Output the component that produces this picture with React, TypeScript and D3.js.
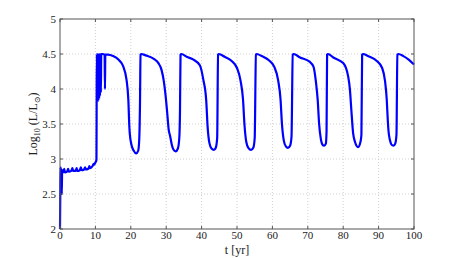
import React from "react";
import * as d3 from "d3";

// time [yr] and log10 luminosity
const tYears = [
  0, 0.1, 0.15, 0.25, 0.4, 0.5, 0.6, 0.9, 1.2, 1.4, 2.0, 2.3, 2.5, 3.2, 3.5, 3.7,
  4.4, 4.7, 4.9, 5.6, 5.9, 6.1, 6.8, 7.1, 7.3, 8.0, 8.3, 8.5, 9.2, 9.5, 9.7, 10.0,
  10.3, 10.35, 10.4, 10.55, 10.65, 10.8, 10.9, 11.05, 11.15, 11.3, 11.4, 11.55, 11.65, 11.8,
  12.0, 12.6, 12.7, 12.8, 13.5, 15.0, 16.5, 17.8, 18.8, 19.3, 19.6, 19.7, 20.2, 20.8,
  21.5, 22.1, 22.4, 22.6, 22.75,
  23.0, 24.2, 26.5, 27.8, 28.7, 29.3, 29.8, 30.3, 30.7, 31.1, 31.6, 32.0, 32.7, 33.3, 33.7, 33.9, 34.05,
  34.3, 35.8, 37.7, 39.5, 40.5, 41.3, 41.7, 42.2, 42.8, 43.5, 44.0, 44.4, 44.65,
  44.9, 46.5, 48.5, 50.0, 51.0, 51.7, 52.1, 52.6, 53.2, 54.0, 54.6, 55.0, 55.35,
  55.6, 57.0, 59.0, 60.5, 61.6, 62.3, 62.7, 63.2, 63.8, 64.4, 65.0, 65.4, 65.75,
  66.0, 67.8, 70.5, 71.6, 72.3, 72.8, 73.2, 73.7, 74.1, 74.6, 75.1, 75.3, 75.45,
  75.7, 77.2, 80.0, 81.4, 81.9, 82.3, 82.8, 83.3, 84.2, 84.9, 85.15, 85.35,
  85.6, 87.0, 89.5, 91.0, 91.8, 92.3, 92.6, 92.8, 93.2, 93.6, 94.2, 94.7, 95.05, 95.3,
  95.6, 97.0, 98.5, 100,
];
const logL = [
  2.0, 2.6, 2.88, 2.82, 2.86, 2.5, 2.84, 2.81, 2.86, 2.81, 2.82, 2.86, 2.82, 2.83, 2.87, 2.83,
  2.83, 2.87, 2.83, 2.84, 2.88, 2.84, 2.85, 2.88, 2.85, 2.86, 2.9, 2.87, 2.9, 2.93, 2.92, 2.95,
  2.99, 3.8, 4.5, 3.85, 4.5, 3.83, 4.5, 3.86, 4.5, 3.9, 4.5, 3.95, 4.5, 4.5,
  4.5, 4.49, 4.0, 4.49, 4.49, 4.47, 4.42, 4.33, 4.13, 3.85, 3.45, 3.37, 3.2, 3.12,
  3.08, 3.12, 3.3, 3.8, 4.49,
  4.5, 4.48, 4.43, 4.37, 4.27, 4.12, 3.92, 3.65, 3.42, 3.33, 3.2, 3.14, 3.11, 3.15, 3.3, 3.7, 4.49,
  4.5, 4.46, 4.42, 4.34, 4.13, 3.84, 3.46, 3.23, 3.15, 3.13, 3.16, 3.3, 4.49,
  4.5, 4.46, 4.4, 4.3, 4.12, 3.85, 3.5, 3.25, 3.16, 3.13, 3.16, 3.3, 4.49,
  4.5, 4.47, 4.41, 4.32, 4.13, 3.85, 3.5, 3.27, 3.18, 3.16, 3.19, 3.32, 4.49,
  4.5, 4.45, 4.39, 4.32, 4.1, 3.84, 3.5, 3.28, 3.21, 3.19, 3.22, 3.4, 4.49,
  4.5, 4.45, 4.37, 4.18, 3.99, 3.7, 3.37, 3.25, 3.17, 3.25, 3.35, 4.49,
  4.5, 4.47, 4.4, 4.3, 4.12, 3.85, 3.55, 3.4, 3.27, 3.21, 3.19, 3.22, 3.35, 4.49,
  4.5, 4.47, 4.42, 4.35,
];
const xTicks = [0, 10, 20, 30, 40, 50, 60, 70, 80, 90, 100];
const yTicks = [2, 2.5, 3, 3.5, 4, 4.5, 5];

export default function App() {
  const W = 457;
  const H = 258;
  const m = { left: 60, right: 43, top: 19, bottom: 29 };
  const x = d3.scaleLinear().domain([0, 100]).range([m.left, W - m.right]);
  const y = d3.scaleLinear().domain([2, 5]).range([H - m.bottom, m.top]);
  const pts = tYears.map((t, i) => [t, logL[i]] as [number, number]);
  const line = d3
    .line<[number, number]>()
    .x((d) => x(d[0]))
    .y((d) => y(d[1]))
    .curve(d3.curveMonotoneX);
  const font = "'Liberation Serif', 'DejaVu Serif', serif";
  const x0 = x(0);
  const x1 = x(100);
  const y0 = y(2);
  const y1 = y(5);

  return (
    <svg width={W} height={H} style={{ position: "absolute", left: 0, top: 0 }}>
      <rect width={W} height={H} fill="#fff" />
      {/* grid */}
      {xTicks.slice(1, -1).map((t) => (
        <line key={"gx" + t} x1={x(t)} x2={x(t)} y1={y0} y2={y1} stroke="#c4c4c4" strokeWidth={0.8} strokeDasharray="1,2" />
      ))}
      {yTicks.slice(1, -1).map((t) => (
        <line key={"gy" + t} x1={x0} x2={x1} y1={y(t)} y2={y(t)} stroke="#c4c4c4" strokeWidth={0.8} strokeDasharray="1,2" />
      ))}
      <path d={line(pts) || ""} fill="none" stroke="#0000ff" strokeWidth={2.2} strokeLinejoin="round" />
      {/* box */}
      <rect x={x0} y={y1} width={x1 - x0} height={y0 - y1} fill="none" stroke="#555" strokeWidth={1} />
      {xTicks.map((t) => (
        <g key={"tx" + t}>
          <line x1={x(t)} x2={x(t)} y1={y0} y2={y0 - 3} stroke="#555" />
          <line x1={x(t)} x2={x(t)} y1={y1} y2={y1 + 3} stroke="#555" />
          <text x={x(t)} y={y0 + 10} fontSize={11} fontFamily={font} textAnchor="middle" fill="#222">
            {t}
          </text>
        </g>
      ))}
      {yTicks.map((t) => (
        <g key={"ty" + t}>
          <line x1={x0} x2={x0 + 3} y1={y(t)} y2={y(t)} stroke="#555" />
          <line x1={x1} x2={x1 - 3} y1={y(t)} y2={y(t)} stroke="#555" />
          <text x={x0 - 4} y={y(t) + 3.5} fontSize={11} fontFamily={font} textAnchor="end" fill="#222">
            {t}
          </text>
        </g>
      ))}
      <text x={(x0 + x1) / 2} y={H - 4} fontSize={12} fontFamily={font} textAnchor="middle" fill="#222">
        t [yr]
      </text>
      <text transform={`translate(37, ${(y0 + y1) / 2}) rotate(-90)`} fontSize={12} fontFamily={font} textAnchor="middle" fill="#222">
        Log<tspan fontSize={8} dy={3}>10</tspan>
        <tspan dy={-3}> (L/L</tspan>
        <tspan fontSize={8} dy={3}>⊙</tspan>
        <tspan dy={-3}>)</tspan>
      </text>
    </svg>
  );
}
